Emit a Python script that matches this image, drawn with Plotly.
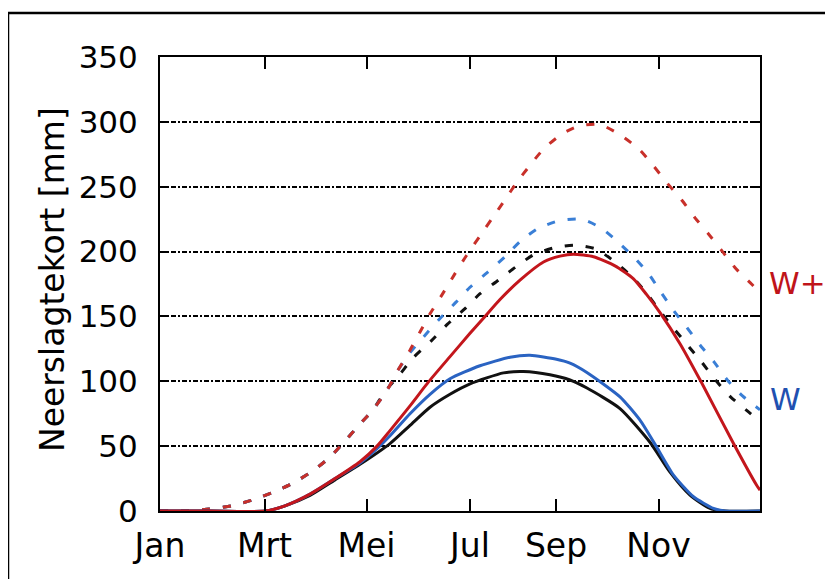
import plotly.graph_objects as go

# x in months from 1 January (0 = Jan, 12 = end of year)
tick_pos = [0, 2.09, 4.13, 6.2, 7.92, 9.97]
tick_text = ["Jan", "Mrt", "Mei", "Jul", "Sep", "Nov"]

# W+ potential (red dashed)
rd_x = [0, 0.5, 1.0, 1.43, 1.85, 2.27, 2.66, 3.06, 3.4, 3.7, 4.0, 4.26, 4.54, 4.75, 5.0, 5.2, 5.4, 5.63, 5.9, 6.13, 6.4, 6.65, 6.9, 7.13, 7.41, 7.67, 8.05, 8.4, 8.8, 9.2, 9.58, 9.87, 10.15, 10.43, 10.7, 10.97, 11.25, 11.52, 11.83, 12.0]
rd_y = [0, 0, 1.5, 4, 8.5, 14.5, 21.5, 31, 41.5, 54, 67, 78, 93, 108, 124, 138, 152, 166, 183, 197, 212, 226, 240, 253, 267, 279, 291, 297, 298, 290, 279, 266, 252.5, 240, 226, 213.6, 200, 186.7, 175, 168]

# W potential (blue dashed)
bd_x = [0, 0.5, 1.0, 1.43, 1.85, 2.27, 2.66, 3.06, 3.4, 3.7, 4.0, 4.26, 4.54, 4.75, 5.0, 5.28, 5.59, 5.92, 6.2, 6.55, 6.9, 7.21, 7.57, 8.0, 8.43, 8.83, 9.17, 9.48, 9.77, 10.03, 10.27, 10.53, 10.8, 11.08, 11.35, 11.65, 12.0]
bd_y = [0, 0, 1.5, 4, 8.5, 14.5, 21.5, 31, 41.5, 54, 67, 78, 93, 108, 122, 134.6, 148, 161, 172.5, 184, 196, 208, 218, 224, 225, 218, 207, 195.6, 183, 168, 154.6, 141.8, 128, 115, 100.8, 88.7, 78]

# reference potential (black dashed)
kd_x = [0, 0.5, 1.0, 1.43, 1.85, 2.27, 2.66, 3.06, 3.4, 3.7, 4.0, 4.26, 4.5, 4.81, 5.06, 5.42, 5.75, 6.1, 6.4, 6.77, 7.11, 7.47, 7.89, 8.3, 8.72, 9.1, 9.43, 9.73, 10.0, 10.28, 10.57, 10.83, 11.11, 11.41, 11.77, 12.0]
kd_y = [0, 0, 1.5, 4, 8.5, 14.5, 21.5, 31, 41.5, 54, 67, 78, 92, 106, 118, 131, 144, 156, 167.5, 178, 188, 197.5, 203, 205, 202, 192, 181, 168, 154, 140.5, 127, 115, 101, 88, 76.4, 69]

# W+ actual (red solid)
rs_x = [0, 1.0, 2.1, 2.5, 3.0, 3.5, 4.0, 4.34, 4.6, 5.0, 5.37, 5.8, 6.2, 6.5, 6.8, 7.2, 7.67, 8.0, 8.27, 8.67, 9.1, 9.47, 9.73, 10.0, 10.4, 10.83, 11.47, 11.93, 12.0]
rs_y = [0, 0, 0, 4, 13, 25, 38, 50, 62, 81, 99.5, 119, 137, 150, 163, 178, 192, 196.5, 198, 196, 189, 179, 167, 153, 129, 99, 52, 20, 16]

# W actual (blue solid)
bs_x = [0, 1.0, 2.1, 2.5, 3.0, 3.5, 4.0, 4.34, 4.6, 5.0, 5.4, 5.8, 6.4, 7.0, 7.4, 7.93, 8.2, 8.53, 9.2, 9.6, 9.93, 10.27, 10.67, 11.07, 11.3, 12.0]
bs_y = [0, 0, 0, 4, 13, 25, 37, 48, 58, 75, 90, 102, 112, 118.5, 120, 117, 114, 107, 88, 70, 49.5, 27.7, 11, 2, 0, 0]

# reference actual (black solid)
ks_x = [0, 1.0, 2.1, 2.5, 3.0, 3.5, 4.0, 4.6, 5.0, 5.4, 5.8, 6.2, 6.87, 7.27, 7.8, 8.2, 8.53, 9.2, 9.8, 10.2, 10.6, 11.0, 11.3, 12.0]
ks_y = [0, 0, 0, 4, 12, 24, 36, 52, 66, 80, 90, 98, 106.5, 107.5, 105, 101, 95, 79, 53, 30, 12.3, 2, 0, 0]

RED = "#c3161c"
RED_D = "#c8302a"
BLUE = "#2a63c2"
BLUE_D = "#3a7fd6"
BLACK = "#111111"
DASH = "8px,13px"

# page body has an 8px margin: figure coordinates are page coordinates - 8
OFF = 8
PL, PR, PT, PB = 160 - OFF, 760 - OFF, 57 - OFF, 511 - OFF
W, H = 833, 579
PW, PH = PR - PL, PB - PT

def px(xpix):
    return (xpix - OFF - PL) / PW

def py(ypix):
    return (PB - (ypix - OFF)) / PH

fig = go.Figure()
def add(x, y, color, dash=None):
    fig.add_trace(go.Scatter(x=x, y=y, mode="lines", showlegend=False, hoverinfo="skip",
                             line=dict(color=color, width=3, shape="spline", smoothing=0.6,
                                       dash=dash if dash else "solid")))

add(kd_x, kd_y, BLACK, DASH)
add(bd_x, bd_y, BLUE_D, DASH)
add(rd_x, rd_y, RED_D, DASH)
add(ks_x, ks_y, BLACK)
add(bs_x, bs_y, BLUE)
add(rs_x, rs_y, RED)

FONT = "DejaVu Sans"
fig.update_layout(
    width=W, height=H,
    margin=dict(l=PL, r=W - PR, t=PT, b=H - PB),
    paper_bgcolor="white", plot_bgcolor="white",
    font=dict(family=FONT, color="black", size=30),
)
fig.update_xaxes(
    range=[0, 12], tickvals=tick_pos, ticktext=tick_text,
    showline=True, linecolor="black", linewidth=2, mirror="allticks",
    ticks="inside", ticklen=12, tickwidth=2, tickcolor="black",
    showgrid=False, zeroline=False, ticklabelstandoff=4,
    tickfont=dict(family=FONT, size=33, color="black"),
)
fig.update_yaxes(
    range=[0, 350], tickvals=[0, 50, 100, 150, 200, 250, 300, 350],
    showline=True, linecolor="black", linewidth=2, mirror="allticks",
    ticks="inside", ticklen=9, tickwidth=2, tickcolor="black",
    showgrid=True, gridcolor="black", gridwidth=2, griddash="5px,2px,2px,2px",
    zeroline=False, ticklabelstandoff=14,
    tickfont=dict(family=FONT, size=31, color="black"),
)

# y-axis title
fig.add_annotation(text="Neerslagtekort [mm]", xref="paper", yref="paper",
                   x=px(52), y=py(280), textangle=-90,
                   showarrow=False, xanchor="center", yanchor="middle",
                   font=dict(family=FONT, size=33, color="black"))
# series labels
fig.add_annotation(text="W+", xref="paper", yref="paper",
                   x=px(797), y=py(283), showarrow=False,
                   xanchor="center", yanchor="middle",
                   font=dict(family=FONT, size=31, color="#c0141a"))
fig.add_annotation(text="W", xref="paper", yref="paper",
                   x=px(786), y=py(399), showarrow=False,
                   xanchor="center", yanchor="middle",
                   font=dict(family=FONT, size=31, color="#2150b0"))

# outer frame (partly visible)
fx0 = px(8)
fy_top = py(13)
fig.add_shape(type="line", xref="paper", yref="paper", x0=fx0, x1=fx0, y0=-0.3, y1=fy_top,
              line=dict(color="black", width=2.5))
fig.add_shape(type="line", xref="paper", yref="paper", x0=fx0, x1=1.3, y0=fy_top, y1=fy_top,
              line=dict(color="black", width=2.5))

fig.write_html("out.html")
